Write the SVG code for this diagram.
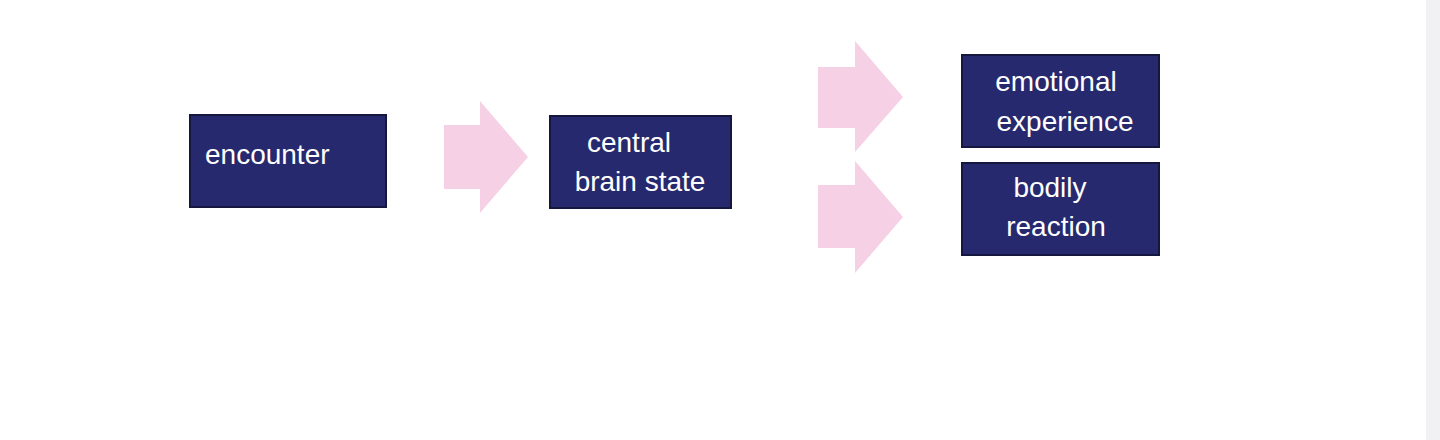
<svg xmlns="http://www.w3.org/2000/svg" width="1440" height="440" viewBox="0 0 1440 440">
<style>
.box{fill:#27296e;stroke:#15173f;stroke-width:2}
.t{fill:#ffffff;font-family:"Liberation Sans",Arial,sans-serif;font-size:28px}
.arr{fill:#f6d0e4}
</style>
<rect width="1440" height="440" fill="#ffffff"/>
<rect x="1426" y="0" width="14" height="440" fill="#f1f1f3"/>
<g id="connectors">
<polygon class="arr" points="444,125 480,125 480,101 528,157 480,213 480,189 444,189"/>
<polygon class="arr" points="818,67 855,67 855,41 903,97 855,152 855,128 818,128"/>
<polygon class="arr" points="818,185 855,185 855,161 903,217 855,273 855,248 818,248"/>
</g>
<g id="encounter"><rect class="box" x="190" y="115" width="196" height="92"/><text class="t" x="205" y="164">encounter</text></g>
<g id="central"><rect class="box" x="550" y="116" width="181" height="92"/><text class="t" x="629" y="152" text-anchor="middle">central</text><text class="t" x="640" y="191" text-anchor="middle">brain state</text></g>
<g id="emotional"><rect class="box" x="962" y="55" width="197" height="92"/><text class="t" x="1056" y="91" text-anchor="middle">emotional</text><text class="t" x="1065" y="131" text-anchor="middle">experience</text></g>
<g id="bodily"><rect class="box" x="962" y="163" width="197" height="92"/><text class="t" x="1050" y="197" text-anchor="middle">bodily</text><text class="t" x="1056" y="236" text-anchor="middle">reaction</text></g>
</svg>
